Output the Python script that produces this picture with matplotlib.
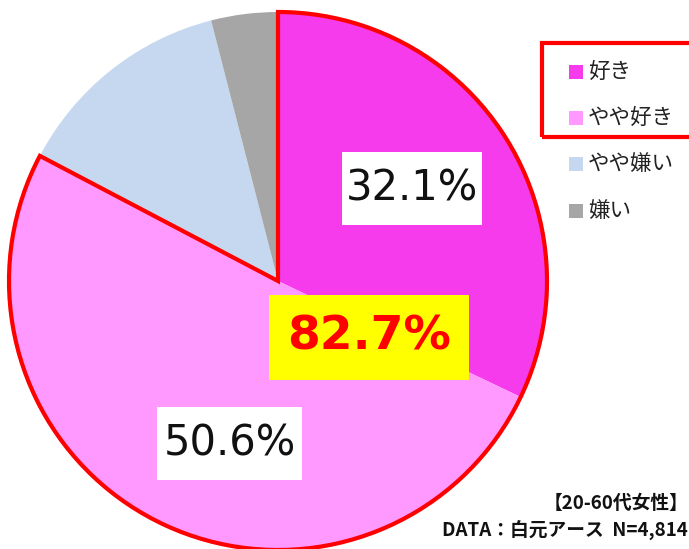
import matplotlib
matplotlib.use("Agg")
import matplotlib.pyplot as plt
from matplotlib.patches import Wedge, Rectangle

plt.rcParams['font.family'] = ['DejaVu Sans', 'Noto Sans CJK JP']

categories = ['好き', 'やや好き', 'やや嫌い', '嫌い']
values = [32.1, 50.6, 13.3, 4.0]
colors = ['#F53BEB', '#FF99FF', '#C5D8EF', '#A6A6A6']
combined_label = '82.7%'
note1 = '【20-60代女性】'
note2 = 'DATA：白元アース  N=4,814'

W, H = 689, 549
fig = plt.figure(figsize=(W / 100, H / 100), dpi=100)
ax = fig.add_axes([0, 0, 1, 1])
ax.set_xlim(0, W)
ax.set_ylim(0, H)
ax.set_aspect('equal')
ax.axis('off')

def py(y):
    return H - y

cx, cy, r = 278, py(281), 269
wedges, _ = ax.pie(values, colors=colors, startangle=90, counterclock=False,
                   radius=r, center=(cx, cy), wedgeprops=dict(linewidth=0))
ax.set_xlim(0, W)
ax.set_ylim(0, H)

# red outline around the first two slices
total = sum(values)
a_top = 90
a_end = 90 - 360 * (values[0] + values[1]) / total
ax.add_patch(Wedge((cx, cy), r, a_end, a_top, fill=False, edgecolor='#FF0000',
                   linewidth=3, zorder=5))

cjk = ['Noto Sans CJK JP', 'DejaVu Sans']

def label_box(x0, y0, x1, y1, text, fc, tc, size, weight='normal'):
    ax.add_patch(Rectangle((x0, py(y1)), x1 - x0, y1 - y0, facecolor=fc,
                           edgecolor='none', zorder=6))
    ax.text((x0 + x1) / 2, py((y0 + y1) / 2), text, ha='center', va='center',
            color=tc, fontsize=size, fontweight=weight, zorder=7)

label_box(342, 152, 482, 225, f'{values[0]:.1f}%', 'white', '#111111', 30)
label_box(157, 407, 302, 480, f'{values[1]:.1f}%', 'white', '#111111', 30)
label_box(269, 295, 469, 380, combined_label, '#FFFF00', '#FF0000', 34, 'bold')

# legend
leg_y = [72, 118, 164, 211]
for cat, col, y in zip(categories, colors, leg_y):
    ax.add_patch(Rectangle((569, py(y) - 7), 14, 14, facecolor=col,
                           edgecolor='none', zorder=6))
    ax.text(588, py(y), cat, ha='left', va='center', fontsize=15.5,
            family=cjk, color='#222222', zorder=7)
ax.add_patch(Rectangle((542, py(137)), 170, 94, fill=False, edgecolor='#FF0000',
                       linewidth=3, zorder=6, clip_on=False))

ax.text(688, py(503), note1, ha='right', va='center', fontsize=13.5,
        fontweight='bold', family=cjk, color='#111111')
ax.text(688, py(531), note2, ha='right', va='center', fontsize=13.5,
        fontweight='bold', family=cjk, color='#111111')

fig.savefig('out.png', dpi=100)
